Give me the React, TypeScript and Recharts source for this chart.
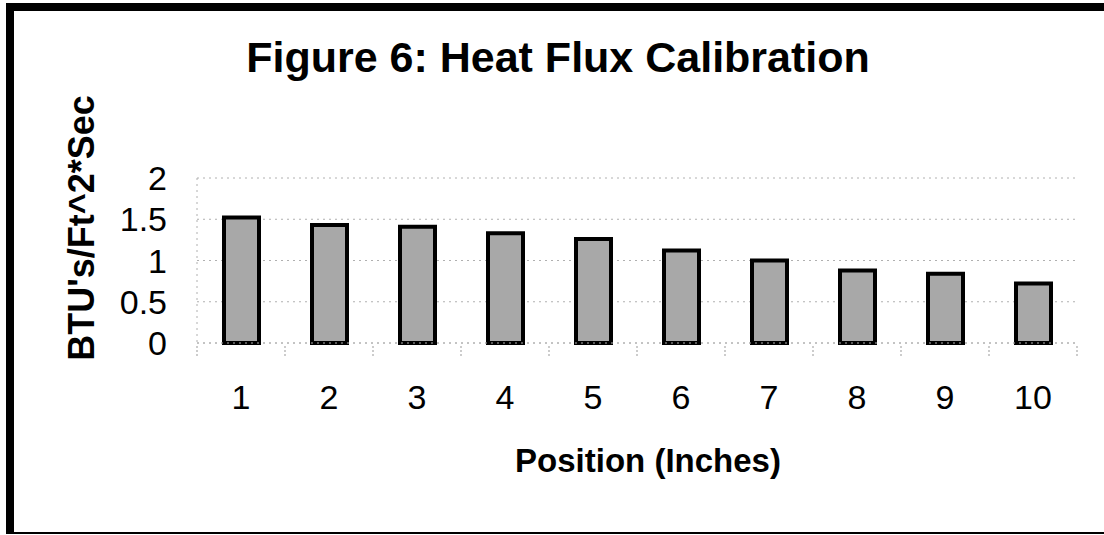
import React from 'react';
import { BarChart, Bar, XAxis, YAxis, CartesianGrid } from 'recharts';

const positions = ['1', '2', '3', '4', '5', '6', '7', '8', '9', '10'];
const heatFlux = [1.52, 1.43, 1.41, 1.33, 1.26, 1.12, 1.0, 0.88, 0.84, 0.72];
const yTicks = [0, 0.5, 1, 1.5, 2];

const data = positions.map((p, i) => ({ position: p, value: heatFlux[i] }));

const FONT = '"Liberation Sans", Arial, Helvetica, sans-serif';
const TICK_MARGIN = 42;

const XTick = (props: any) => {
  const { x, y, payload, index, visibleTicksCount } = props;
  const off = payload && payload.offset ? payload.offset : 0;
  const axisY = y - TICK_MARGIN;
  const isLast = index === (visibleTicksCount || 10) - 1;
  return (
    <g>
      <line x1={x - off} x2={x - off} y1={axisY + 3} y2={axisY + 13} stroke="#999" strokeDasharray="2 2" />
      {isLast && <line x1={x + off} x2={x + off} y1={axisY + 3} y2={axisY + 13} stroke="#999" strokeDasharray="2 2" />}
      <text x={x} y={y} dy="0.71em" textAnchor="middle" fill="#000" fontSize={34} fontFamily={FONT}>
        {payload.value}
      </text>
    </g>
  );
};

export default function App() {
  return (
    <div style={{ position: 'fixed', left: 0, top: 0, width: 1104, height: 535, background: '#fff', overflow: 'hidden', fontFamily: FONT }}>
      <div style={{ position: 'absolute', left: 6, top: 3, width: 1200, height: 521, borderLeft: '8px solid #000', borderTop: '8px solid #000', borderBottom: '2px solid #000' }} />
      <div style={{ position: 'absolute', left: 0, top: 0 }}>
        <BarChart width={1104} height={535} data={data} margin={{ top: 178, right: 27, bottom: 0, left: 0 }}>
          <CartesianGrid vertical={false} stroke="#b0b0b0" strokeDasharray="2 4" />
          <XAxis dataKey="position" height={192} tickSize={0} tickMargin={TICK_MARGIN} axisLine={{ stroke: '#b0b0b0', strokeDasharray: '2 4' }} tickLine={false} tick={<XTick />} interval={0} />
          <YAxis width={197} domain={[0, 2]} ticks={yTicks} interval={0} tickSize={0} tickMargin={30} axisLine={{ stroke: '#b0b0b0', strokeDasharray: '2 4' }} tickLine={false} tick={{ fill: '#000', fontSize: 34, fontFamily: FONT }} />
          <Bar dataKey="value" fill="#a8a8a8" stroke="#000" strokeWidth={4} barSize={35} isAnimationActive={false} />
        </BarChart>
      </div>
      <div style={{ position: 'absolute', left: 158, width: 800, top: 36, textAlign: 'center', fontSize: 43, fontWeight: 'bold', lineHeight: 1, whiteSpace: 'nowrap' }}>
        Figure 6: Heat Flux Calibration
      </div>
      <div style={{ position: 'absolute', left: 348, width: 600, top: 444, textAlign: 'center', fontSize: 33, fontWeight: 'bold', lineHeight: 1, whiteSpace: 'nowrap' }}>
        Position (Inches)
      </div>
      <div style={{ position: 'absolute', left: 82 - 200, width: 400, top: 228 - 18, height: 36, textAlign: 'center', fontSize: 36, fontWeight: 'bold', lineHeight: 1, whiteSpace: 'nowrap', transform: 'rotate(-90deg)', transformOrigin: '50% 50%' }}>
        BTU's/Ft^2*Sec
      </div>
    </div>
  );
}
